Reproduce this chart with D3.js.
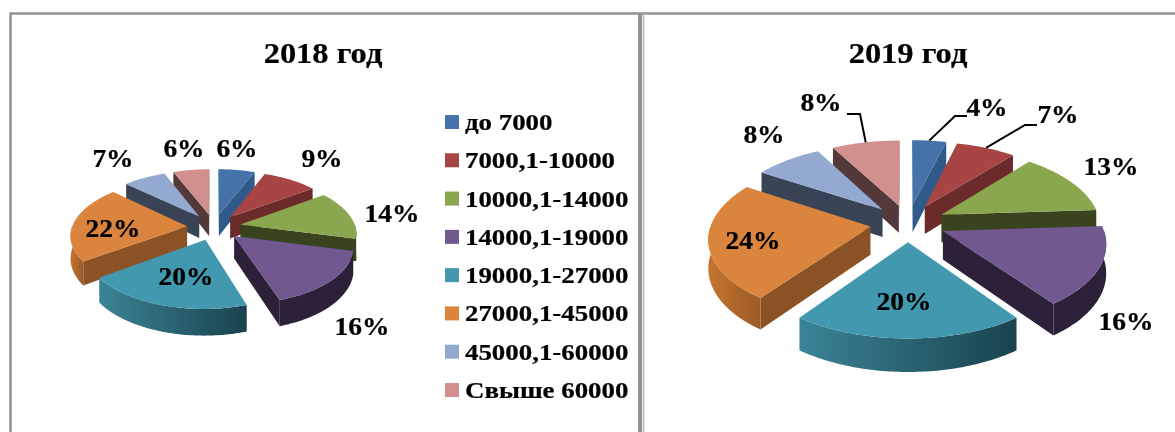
<!DOCTYPE html>
<html><head><meta charset="utf-8">
<script src="https://cdn.jsdelivr.net/npm/d3@7"></script>
<style>html,body{margin:0;padding:0;background:#fff}svg{display:block;filter:blur(0.4px)}
text{font-family:"Liberation Serif",serif;font-weight:bold;fill:#000;stroke:#000;stroke-width:0.25px}</style></head>
<body><svg id="c" width="1175" height="432"></svg>
<script>
const categories=["до 7000","7000,1-10000","10000,1-14000","14000,1-19000","19000,1-27000","27000,1-45000","45000,1-60000","Свыше 60000"];
const values2018=[6,9,14,16,20,22,7,6];
const values2019=[4,7,13,16,20,24,8,8];
const topColors=["#4573a9","#a64543","#8aa74f","#71588f","#4198af","#db843d","#93a9cf","#d18f8e"];
const wallColors=["#2f5a8a","#6b2b2a","#39431e","#2d2139","#1f5564","#8a5225","#384455","#53393a"];
const arcWallFrom=["#2f5a8a","#6b2b2a","#39431e","#2d2139","#3a8497","#c4762f","#384455","#53393a"];
const arcWallTo=["#2f5a8a","#6b2b2a","#39431e","#2d2139","#1a424e","#9a5a28","#384455","#53393a"];
const labelXY2018=[[237,157],[322,167],[392,222],[362,335],[186,285],[113,237],[113,167],[184,157]];
const labelXY2019=[[987,116],[1058,123],[1111,175],[1126,330],[904,310],[753,249],[764,143],[821,111]];
const leaderElbows2019=[[[955,116],[967,116]],[[1025,125],[1037,125]],null,null,null,null,null,[[860,114],[847,114]]];

const svg=d3.select("#c");
const defs=svg.append("defs");
const frame=svg.append("g").attr("fill","none").attr("stroke","#929292");
frame.append("path").attr("stroke-width",2.5).attr("d","M10.5,432V13.5H1175");
frame.append("path").attr("stroke-width",4).attr("d","M640,13V432");
frame.append("path").attr("stroke-width",1.5).attr("stroke","#b5b5b5").attr("d","M643.5,14V432");

const pie=d3.pie().sort(null).value(d=>d);
const line=d3.line();

function draw3D(id,values,o){
  const g=svg.append("g");
  const proj=(X,Y,z)=>{const s=1/(1-Y/o.d);return [o.cx+X*s,o.cy+(o.ky*Y+z)*s];};
  const arcs=pie(values).map((a,i)=>{
    const mid=(a.startAngle+a.endAngle)/2;
    return {...a,i,mid,ox:Math.sin(mid)*o.e,oy:-Math.cos(mid)*o.e};
  });
  const pt=(a,ang,r,z)=>proj(a.ox+Math.sin(ang)*r,a.oy-Math.cos(ang)*r,z);
  arcs.forEach(a=>{
    const grad=defs.append("linearGradient").attr("id",id+"g"+a.i);
    grad.append("stop").attr("offset",0).attr("stop-color",arcWallFrom[a.i]);
    grad.append("stop").attr("offset",1).attr("stop-color",arcWallTo[a.i]);
  });
  const order=arcs.slice().sort((p,q)=>p.oy-q.oy);
  order.forEach(a=>{
    const n=Math.max(2,Math.ceil((a.endAngle-a.startAngle)*60));
    const angs=d3.range(n+1).map(k=>a.startAngle+(a.endAngle-a.startAngle)*k/n);
    const top=[pt(a,0,0,0)].concat(angs.map(t=>pt(a,t,o.R,0)));
    const inner=pt(a,a.mid,o.R*0.5,0);
    [a.startAngle,a.endAngle].forEach(t=>{
      const A=pt(a,t,0,0),B=pt(a,t,o.R,0);
      const cr=(B[0]-A[0])*(inner[1]-A[1])-(B[1]-A[1])*(inner[0]-A[0]);
      const down=(B[0]-A[0])*o.depth;
      if(cr*down<0){
        g.append("path").attr("d",line([A,B,pt(a,t,o.R,o.depth),pt(a,t,0,o.depth)])+"Z")
         .attr("fill",wallColors[a.i]);
      }
    });
    const lo=Math.max(a.startAngle,Math.PI/2),hi=Math.min(a.endAngle,Math.PI*1.5);
    if(hi>lo){
      const m=Math.max(2,Math.ceil((hi-lo)*60));
      const r=d3.range(m+1).map(k=>lo+(hi-lo)*k/m);
      const poly=r.map(t=>pt(a,t,o.R,0)).concat(r.slice().reverse().map(t=>pt(a,t,o.R,o.depth)));
      g.append("path").attr("d",line(poly)+"Z").attr("fill","url(#"+id+"g"+a.i+")");
    }
    g.append("path").attr("d",line(top)+"Z").attr("fill",topColors[a.i]);
  });
  if(o.elbows){
    arcs.forEach(a=>{
      const el=o.elbows[a.i]; if(!el) return;
      g.append("path").attr("fill","none").attr("stroke","#000").attr("stroke-width",2)
       .attr("d",line([pt(a,a.mid,o.R,0),el[0],el[1]]));
    });
  }
  arcs.forEach(a=>{
    const [x,y]=o.labels[a.i];
    g.append("text").attr("text-anchor","middle").attr("font-size",25)
     .attr("transform",`translate(${x},${y}) scale(1.1,1)`).text(values[a.i]+"%");
  });
  svg.append("text").attr("text-anchor","middle").attr("font-size",29)
    .attr("transform",`translate(${o.titleX},63) scale(1.12,1)`).text(o.title);
}

draw3D("a",values2018,{cx:214,cy:227,R:115,e:27,ky:0.48,d:800,depth:22,labels:labelXY2018,title:"2018 год",titleX:323});
draw3D("b",values2019,{cx:908,cy:223,R:159,e:38,ky:0.49,d:1200,depth:28,labels:labelXY2019,elbows:leaderElbows2019,title:"2019 год",titleX:908});

const step=d3.scalePoint().domain(categories).range([115,383]);
const lg=svg.append("g");
lg.selectAll("rect").data(categories).join("rect")
  .attr("x",445).attr("y",d=>step(d)).attr("width",14).attr("height",14)
  .attr("fill",(d,i)=>topColors[i]);
lg.selectAll("text").data(categories).join("text").attr("font-size",24)
  .attr("transform",d=>`translate(465,${step(d)+15}) scale(1.12,1)`).text(d=>d);
</script></body></html>
